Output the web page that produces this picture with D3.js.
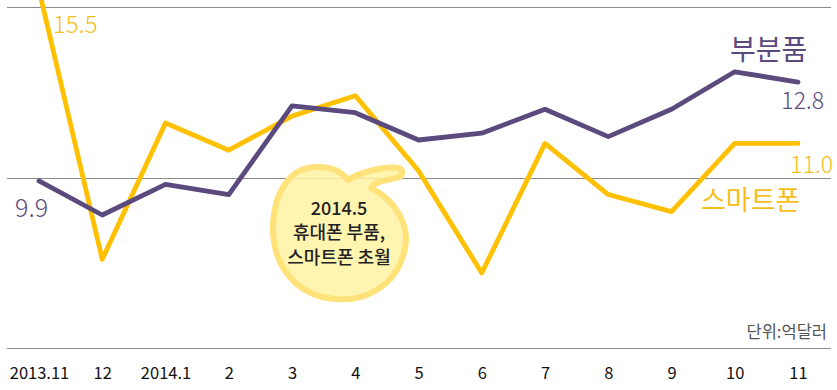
<!DOCTYPE html>
<html><head><meta charset="utf-8">
<script src="https://cdn.jsdelivr.net/npm/d3@7"></script>
<style>
html,body{margin:0;padding:0;background:#fff;}
svg{display:block;}
text{font-family:"Noto Sans CJK KR","Noto Sans",sans-serif;}
</style></head>
<body>
<script>
const categories = ["2013.11","12","2014.1","2","3","4","5","6","7","8","9","10","11"];
const partsValues = [9.9, 8.9, 9.8, 9.5, 12.1, 11.9, 11.1, 11.3, 12.0, 11.2, 12.0, 13.1, 12.8];
const phoneValues = [15.5, 7.6, 11.6, 10.8, 11.8, 12.4, 10.2, 7.2, 11.0, 9.5, 9.0, 11.0, 11.0];
const gridValues = [15, 10, 5];
const seriesNames = ["부분품", "스마트폰"];
const unitLabel = "단위:억달러";
const noteLines = ["2014.5", "휴대폰 부품,", "스마트폰 초월"];

const W = 837, H = 390;
const purple = "#5B4A7E", yellow = "#FFC000", yellowText = "#F7BE1A";

const svg = d3.select("body").append("svg").attr("width", W).attr("height", H);

const x = d3.scalePoint().domain(categories).range([39, 798]);
const y = d3.scaleLinear().domain([5, 15]).range([348, 7]);

// gridlines
svg.append("g").selectAll("line").data(gridValues).join("line")
  .attr("x1", 7).attr("x2", 831)
  .attr("y1", d => Math.round(y(d)) + 0.5).attr("y2", d => Math.round(y(d)) + 0.5)
  .attr("stroke", "#8a8a8a").attr("stroke-width", 1);

// note bubble
const bub = svg.append("g");
bub.append("path")
  .attr("d", "M348,180 C360,172 385,166 398,168 C405,170 403,177 396,178 C386,180 374,182 371,188 C395,200 410,225 405,248 C398,285 366,302 335,299 C296,296 272,265 273,226 C274,192 290,168 315,167 C331,166 342,172 348,180 Z")
  .attr("fill", "#FFF2A2").attr("fill-opacity", 0.85)
  .attr("stroke", "#FFE27A").attr("stroke-width", 6).attr("stroke-linejoin", "round");

// axis labels
const axis = d3.axisBottom(x).tickSize(0).tickPadding(0);
const ax = svg.append("g").attr("transform", "translate(0,365)").call(axis);
ax.select(".domain").remove();
ax.selectAll("text").attr("font-size", 16.5).attr("fill", "#111").attr("dy", 0)
  .attr("y", 14).style("font-family", "'Noto Sans CJK KR',sans-serif");

// lines
const line = d3.line().x((d, i) => x(categories[i])).y(d => y(d));
svg.append("path").datum(phoneValues).attr("d", line)
  .attr("fill", "none").attr("stroke", yellow).attr("stroke-width", 4.8)
  .attr("stroke-linejoin", "round").attr("stroke-linecap", "round");
svg.append("path").datum(partsValues).attr("d", line)
  .attr("fill", "none").attr("stroke", purple).attr("stroke-width", 4.8)
  .attr("stroke-linejoin", "round").attr("stroke-linecap", "round");

// value labels
const last = categories.length - 1;
svg.append("text").text(phoneValues[0].toFixed(1))
  .attr("x", x(categories[0]) + 14).attr("y", 33)
  .attr("font-size", 24).attr("font-weight", 300).attr("fill", yellowText);
svg.append("text").text(partsValues[0].toFixed(1))
  .attr("x", x(categories[0]) - 24).attr("y", 217).attr("text-anchor", "start")
  .attr("font-size", 25).attr("font-weight", 300).attr("fill", purple);
svg.append("text").text(partsValues[last].toFixed(1))
  .attr("x", 824).attr("y", 109).attr("text-anchor", "end")
  .attr("font-size", 23).attr("font-weight", 300).attr("fill", purple);
svg.append("text").text(phoneValues[last].toFixed(1))
  .attr("x", 833).attr("y", 173).attr("text-anchor", "end")
  .attr("font-size", 23).attr("font-weight", 300).attr("fill", yellowText);

// series names
svg.append("text").text(seriesNames[0])
  .attr("x", 730).attr("y", 60)
  .attr("font-size", 28).attr("fill", purple);
svg.append("text").text(seriesNames[1])
  .attr("x", 701).attr("y", 210)
  .attr("font-size", 27).attr("fill", yellowText);

// unit
svg.append("text").text(unitLabel)
  .attr("x", 827).attr("y", 338).attr("text-anchor", "end")
  .attr("font-size", 16.5).attr("fill", "#555");

// note text
const noteY = [215, 239, 264];
bub.selectAll("text.note").data(noteLines).join("text").attr("class", "note")
  .text(d => d).attr("x", 339).attr("y", (d, i) => noteY[i])
  .attr("text-anchor", "middle").attr("font-size", 18).attr("font-weight", 500)
  .attr("fill", "#222");
</script>
</body></html>
